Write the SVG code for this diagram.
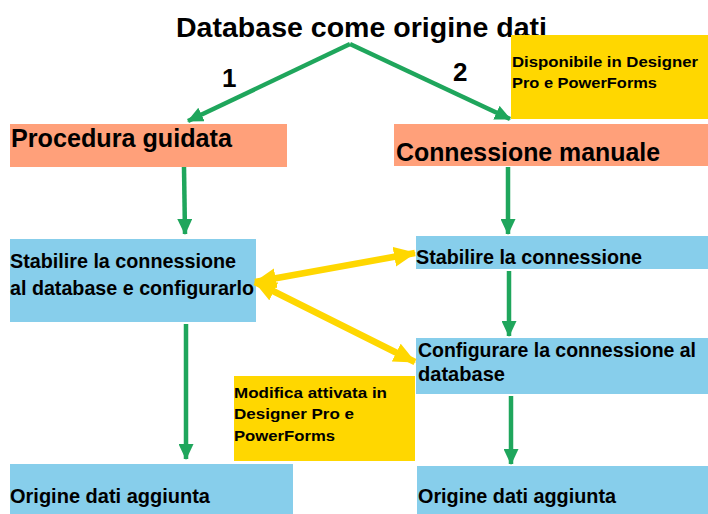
<svg xmlns="http://www.w3.org/2000/svg" width="708" height="514" viewBox="0 0 708 514">
<defs>
<style>
text{font-family:"Liberation Sans",Arial,sans-serif;font-weight:bold;fill:#000}
.salmon{fill:#FFA07A}
.blue{fill:#87CEEB}
.gold{fill:#FFD700}
.g{stroke:#1FA65C;stroke-width:4.5;fill:none}
.y{stroke:#FFD700;stroke-width:6.5;fill:none}
.t24{font-size:25px}
.t20{font-size:21px}
.t14{font-size:15px}
</style>
<marker id="ga" viewBox="0 0 16 15" refX="15" refY="7.5" markerWidth="16" markerHeight="15" markerUnits="userSpaceOnUse" orient="auto">
<path d="M0,0 L16,7.5 L0,15 Z" fill="#1FA65C"/>
</marker>
<marker id="ya" viewBox="0 0 22 20" refX="21" refY="10" markerWidth="22" markerHeight="20" markerUnits="userSpaceOnUse" orient="auto-start-reverse">
<path d="M0,0 L22,10 L0,20 Z" fill="#FFD700"/>
</marker>
</defs>
<rect width="708" height="514" fill="#fff"/>

<g id="title">
<text x="176" y="37" font-size="28" textLength="371" lengthAdjust="spacingAndGlyphs">Database come origine dati</text>
</g>

<g id="note-top">
<rect class="gold" x="511" y="35" width="197" height="84"/>
<text class="t14" x="512" y="67" textLength="186" lengthAdjust="spacingAndGlyphs">Disponibile in Designer</text>
<text class="t14" x="512" y="88" textLength="145" lengthAdjust="spacingAndGlyphs">Pro e PowerForms</text>
</g>

<g id="wizard">
<rect class="salmon" x="10" y="124" width="277" height="43"/>
<text class="t24" x="11" y="147" textLength="221" lengthAdjust="spacingAndGlyphs">Procedura guidata</text>
</g>

<g id="manual">
<rect class="salmon" x="394" y="124" width="314" height="42"/>
<text class="t24" x="396" y="161" textLength="264" lengthAdjust="spacingAndGlyphs">Connessione manuale</text>
</g>

<g id="establish-configure">
<rect class="blue" x="10" y="239" width="246" height="83"/>
<text class="t20" x="10" y="268" textLength="226" lengthAdjust="spacingAndGlyphs">Stabilire la connessione</text>
<text class="t20" x="10" y="295" textLength="244" lengthAdjust="spacingAndGlyphs">al database e configurarlo</text>
</g>

<g id="establish">
<rect class="blue" x="416" y="236" width="292" height="33"/>
<text class="t20" x="416" y="264" textLength="226" lengthAdjust="spacingAndGlyphs">Stabilire la connessione</text>
</g>

<g id="configure">
<rect class="blue" x="416" y="338" width="292" height="56"/>
<text x="418" y="357" font-size="19.5" textLength="278" lengthAdjust="spacingAndGlyphs">Configurare la connessione al</text>
<text class="t20" x="418" y="381" textLength="87" lengthAdjust="spacingAndGlyphs">database</text>
</g>

<g id="note-bottom">
<rect class="gold" x="234" y="376" width="181" height="85"/>
<text class="t14" x="234" y="398" textLength="153" lengthAdjust="spacingAndGlyphs">Modifica attivata in</text>
<text class="t14" x="234" y="419" textLength="120" lengthAdjust="spacingAndGlyphs">Designer Pro e</text>
<text class="t14" x="234" y="441" textLength="101" lengthAdjust="spacingAndGlyphs">PowerForms</text>
</g>

<g id="added-left">
<rect class="blue" x="10" y="464" width="283" height="50"/>
<text class="t20" x="10" y="503" textLength="200" lengthAdjust="spacingAndGlyphs">Origine dati aggiunta</text>
</g>

<g id="added-right">
<rect class="blue" x="417" y="466" width="291" height="48"/>
<text class="t20" x="418" y="503" textLength="198" lengthAdjust="spacingAndGlyphs">Origine dati aggiunta</text>
</g>

<g id="connectors">
<path class="g" d="M350,44 L188,121" marker-end="url(#ga)"/>
<path class="g" d="M350,44 L510,119" marker-end="url(#ga)"/>
<path class="g" d="M184,167 L185,234" marker-end="url(#ga)"/>
<path class="g" d="M508,167 L508,234" marker-end="url(#ga)"/>
<path class="g" d="M509,271 L509,336" marker-end="url(#ga)"/>
<path class="g" d="M186,324 L186,459" marker-end="url(#ga)"/>
<path class="g" d="M511,396 L511,464" marker-end="url(#ga)"/>
<path class="y" d="M255,282 L415,253" marker-start="url(#ya)" marker-end="url(#ya)"/>
<path class="y" d="M255,282 L415,362" marker-start="url(#ya)" marker-end="url(#ya)"/>
<text x="222" y="87" font-size="26">1</text>
<text x="453" y="81" font-size="26">2</text>
</g>
</svg>
